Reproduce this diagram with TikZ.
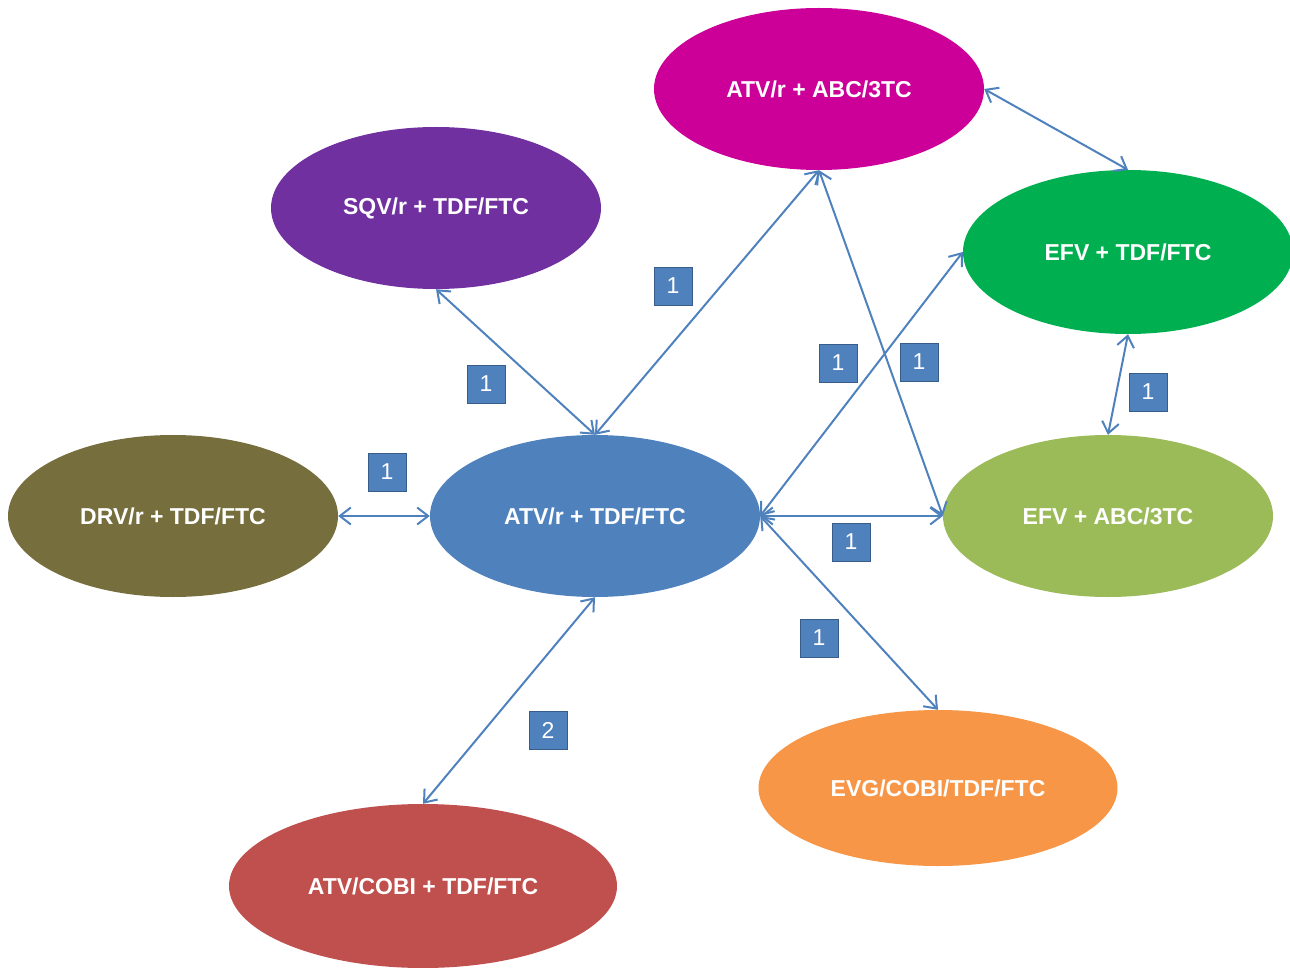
\documentclass[tikz,border=0pt]{standalone}
\usepackage{fontspec}
\setmainfont{Liberation Sans}
\usetikzlibrary{shapes.geometric,arrows.meta}
\definecolor{cmag}{RGB}{204,0,153}
\definecolor{cpur}{RGB}{112,48,160}
\definecolor{cgrn}{RGB}{0,176,80}
\definecolor{coli}{RGB}{119,110,62}
\definecolor{cblu}{RGB}{79,129,189}
\definecolor{clgr}{RGB}{155,187,89}
\definecolor{cora}{RGB}{247,150,70}
\definecolor{cred}{RGB}{192,80,77}
\definecolor{cbord}{RGB}{56,93,138}
\tikzset{
  regimen/.style={ellipse, draw=none, inner sep=0pt, minimum width=330pt, minimum height=162pt,
    text=white, font=\fontsize{23}{28}\selectfont\bfseries},
  conn/.style={draw=cblu, line width=2pt, {Straight Barb[length=11pt,width=17pt]}-{Straight Barb[length=11pt,width=17pt]}},
  numbox/.style={rectangle, fill=cblu, draw=cbord, line width=0.8pt, minimum width=38pt, minimum height=38pt,
    inner sep=0pt, text=white, font=\fontsize{23}{28}\selectfont}
}
\begin{document}
\begin{tikzpicture}[x=1pt,y=-1pt]
\useasboundingbox (0,0) rectangle (1290,968);
\clip (0,0) rectangle (1290,968);
\node[regimen, fill=cmag] (mag) at (819,89) {ATV/r + ABC/3TC};
\node[regimen, fill=cpur] (sqv) at (436,208) {SQV/r + TDF/FTC};
\node[regimen, fill=cgrn, minimum height=164pt] (efvt) at (1128,252) {EFV + TDF/FTC};
\node[regimen, fill=coli] (drv) at (173,516) {DRV/r + TDF/FTC};
\node[regimen, fill=cblu] (atv) at (595,516) {ATV/r + TDF/FTC};
\node[regimen, fill=clgr] (efva) at (1108,516) {EFV + ABC/3TC};
\node[regimen, fill=cora, minimum width=359pt, minimum height=156pt] (evg) at (938,788) {EVG/COBI/TDF/FTC};
\node[regimen, fill=cred, minimum width=388pt, minimum height=164pt] (cobi) at (423,886) {ATV/COBI + TDF/FTC};
\draw[conn] (drv.east) -- (atv.west);
\draw[conn] (sqv.south) -- (atv.north);
\draw[conn] (atv.north) -- (mag.south);
\draw[conn] (atv.east) -- (efvt.west);
\draw[conn] (mag.south) -- (efva.west);
\draw[conn] (atv.east) -- (efva.west);
\draw[conn] (atv.east) -- (evg.north);
\draw[conn] (atv.south) -- (cobi.north);
\draw[conn] (mag.east) -- (efvt.north);
\draw[conn] (efvt.south) -- (efva.north);
\node[numbox] (l1) at (387,472) {1};
\node[numbox] (l2) at (486,384) {1};
\node[numbox] (l3) at (673,286) {1};
\node[numbox] (l4) at (838,363) {1};
\node[numbox] (l5) at (919,362) {1};
\node[numbox] (l6) at (851,542) {1};
\node[numbox] (l7) at (819,638) {1};
\node[numbox] (l8) at (548,730) {2};
\node[numbox] (l9) at (1148,392) {1};
\end{tikzpicture}
\end{document}
